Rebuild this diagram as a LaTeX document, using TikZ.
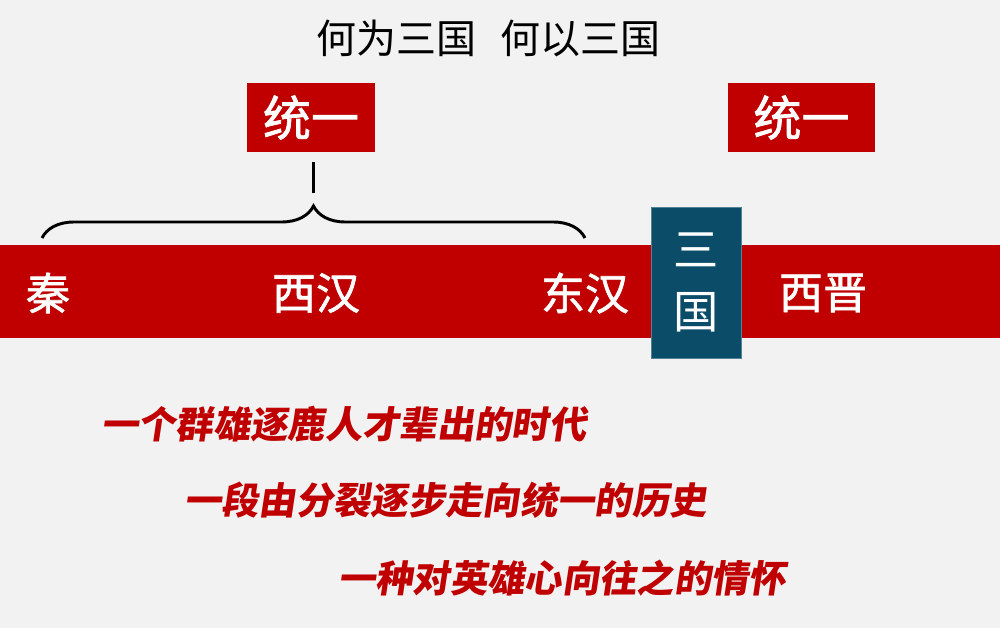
\documentclass[tikz,border=0pt]{standalone}
\usepackage{fontspec}
\newfontfamily\cjk{Noto Sans CJK SC}
\newfontfamily\cjkb{Noto Sans CJK SC}[FakeBold=1.5]
\usetikzlibrary{decorations.pathreplacing}
\definecolor{bg}{HTML}{F2F2F2}
\definecolor{dred}{HTML}{C00000}
\definecolor{teal}{HTML}{0B4C68}
\tikzset{
  lbl/.style={text=white,font=\cjkb\fontsize{33}{33}\selectfont,inner sep=0},
  tbox/.style={fill=dred,text=white,font=\cjkb\fontsize{36}{36}\selectfont,inner sep=0},
  verse/.style={text=dred,font=\cjk\bfseries\fontsize{28}{28}\selectfont,inner sep=0,anchor=west,xslant=0.15}
}
\begin{document}
\begin{tikzpicture}[x=0.75pt,y=-0.75pt]
\fill[bg] (0,0) rectangle (1000,628);
\useasboundingbox (0,0) rectangle (1000,628);
\node[inner sep=0,font=\cjk\fontsize{30}{30}\selectfont] (title) at (488,38) {何为三国\hspace{0.6em}何以三国};
\node[tbox,minimum width=128*0.75pt,minimum height=69*0.75pt] (u1) at (311,117.5) {统一};
\node[tbox,minimum width=147*0.75pt,minimum height=69*0.75pt] (u2) at (801.5,117.5) {统一};
\fill[dred] (0,245) rectangle (1000,338);
\node[fill=teal,draw=teal!70!white,minimum width=90*0.75pt,minimum height=151*0.75pt,inner sep=0] (sg) at (696,282.5) {};
\node[lbl,align=center,font=\cjk\fontsize{34}{44}\selectfont] at (sg) {三\\[2pt]国};
\node[lbl] (qin) at (48,293) {秦};
\node[lbl] (xh) at (316,293) {西汉};
\node[lbl] (dh) at (585,293) {东汉};
\node[lbl] (xj) at (823,293) {西晋};
\coordinate (bl) at (42,238);
\coordinate (br) at (585,238);
\draw[line width=2.2pt,decorate,decoration={brace,amplitude=24pt,aspect=0.5}] (bl) -- (br);
\draw[line width=2.2pt] (313.5,193) -- (313.5,162);
\node[verse] (l1) at (103,424) {一个群雄逐鹿人才辈出的时代};
\node[verse] (l2) at (186,500) {一段由分裂逐步走向统一的历史};
\node[verse] (l3) at (340,578) {一种对英雄心向往之的情怀};
\end{tikzpicture}
\end{document}
